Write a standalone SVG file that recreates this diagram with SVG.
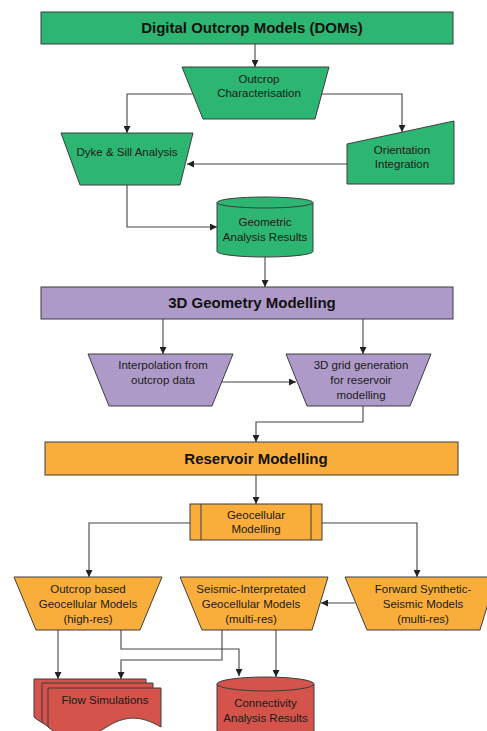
<svg xmlns="http://www.w3.org/2000/svg" width="487" height="731" viewBox="0 0 487 731">
<style>
  .g{fill:#2db671;stroke:#3d3d3d;stroke-width:1}
  .p{fill:#ae9ac8;stroke:#3d3d3d;stroke-width:1}
  .o{fill:#f9ae3c;stroke:#3d3d3d;stroke-width:1}
  .r{fill:#d4534b;stroke:#3d3d3d;stroke-width:1}
  .t{font-family:"Liberation Sans",Arial,sans-serif;font-size:11.5px;fill:#1a1a1a;text-anchor:middle}
  .h{font-family:"Liberation Sans",Arial,sans-serif;font-size:15px;font-weight:bold;fill:#111;text-anchor:middle}
  .c{fill:none;stroke:#444;stroke-width:1.1;marker-end:url(#ah)}
</style>
<defs>
  <marker id="ah" viewBox="0 0 10 10" refX="10" refY="5" markerWidth="7" markerHeight="7" markerUnits="userSpaceOnUse" orient="auto">
    <path d="M0,0 L10,5 L0,10 Z" fill="#222"/>
  </marker>
</defs>
<rect width="487" height="731" fill="#fff"/>

<g id="connectors">
  <path class="c" d="M255,44 V67"/>
  <path class="c" d="M193,94 H127 V133"/>
  <path class="c" d="M322,94 H402 V132"/>
  <path class="c" d="M347,164 H187"/>
  <path class="c" d="M127,185 V227 H217"/>
  <path class="c" d="M265,257 V287"/>
  <path class="c" d="M163,319 V354"/>
  <path class="c" d="M363,319 V354"/>
  <path class="c" d="M222,382 H296"/>
  <path class="c" d="M363,406 V422 H256 V442"/>
  <path class="c" d="M256,475 V504"/>
  <path class="c" d="M190,523 H89 V577"/>
  <path class="c" d="M322,523 H417 V577"/>
  <path class="c" d="M355,603 H321"/>
  <path class="c" d="M58,630 V679"/>
  <path class="c" d="M121,630 V649 H239 V676"/>
  <path class="c" d="M222,630 V660 H121 V679"/>
  <path class="c" d="M276,630 V677"/>
</g>

<g id="doms">
  <rect class="g" x="41" y="12" width="412" height="32"/>
  <text class="h" x="252" y="33">Digital Outcrop Models (DOMs)</text>
</g>

<g id="outcrop-char">
  <polygon class="g" points="182,67 329,67 315,119 203,119"/>
  <text class="t" x="259" y="83">Outcrop</text>
  <text class="t" x="259" y="97">Characterisation</text>
</g>

<g id="dyke-sill">
  <polygon class="g" points="61,133 193,133 180,185 80,185"/>
  <text class="t" x="127" y="156">Dyke &amp; Sill Analysis</text>
</g>

<g id="orientation">
  <polygon class="g" points="347,144 454,121 454,184 347,184"/>
  <text class="t" x="402" y="154">Orientation</text>
  <text class="t" x="402" y="168">Integration</text>
</g>

<g id="geometric-results">
  <path class="g" d="M217,202.5 V251.5 A48,5.5 0 0 0 313,251.5 V202.5"/>
  <ellipse class="g" cx="265" cy="202.5" rx="48" ry="5.5"/>
  <text class="t" x="265" y="226">Geometric</text>
  <text class="t" x="265" y="241">Analysis Results</text>
</g>

<g id="geometry-modelling">
  <rect class="p" x="41" y="287" width="412" height="32"/>
  <text class="h" x="252" y="308">3D Geometry Modelling</text>
</g>

<g id="interpolation">
  <polygon class="p" points="88,354 233,354 212,406 109,406"/>
  <text class="t" x="163" y="369">Interpolation from</text>
  <text class="t" x="163" y="384">outcrop data</text>
</g>

<g id="grid-generation">
  <polygon class="p" points="286,354 431,354 410,406 307,406"/>
  <text class="t" x="361" y="369">3D grid generation</text>
  <text class="t" x="361" y="384">for reservoir</text>
  <text class="t" x="361" y="399">modelling</text>
</g>

<g id="reservoir-modelling">
  <rect class="o" x="45" y="442" width="413" height="33"/>
  <text class="h" x="256" y="464">Reservoir Modelling</text>
</g>

<g id="geocellular">
  <rect class="o" x="190" y="504" width="132" height="36"/>
  <line x1="201" y1="504" x2="201" y2="540" stroke="#3d3d3d" stroke-width="1"/>
  <line x1="311" y1="504" x2="311" y2="540" stroke="#3d3d3d" stroke-width="1"/>
  <text class="t" x="256" y="519">Geocellular</text>
  <text class="t" x="256" y="533">Modelling</text>
</g>

<g id="outcrop-geocellular">
  <polygon class="o" points="14,577 162,577 140,630 36,630"/>
  <text class="t" x="88" y="593">Outcrop based</text>
  <text class="t" x="88" y="608">Geocellular Models</text>
  <text class="t" x="88" y="623">(high-res)</text>
</g>

<g id="seismic-geocellular">
  <polygon class="o" points="180,577 328,577 312,630 202,630"/>
  <text class="t" x="251" y="593">Seismic-Interpretated</text>
  <text class="t" x="251" y="608">Geocellular Models</text>
  <text class="t" x="251" y="623">(multi-res)</text>
</g>

<g id="forward-synthetic">
  <polygon class="o" points="345,577 496,577 480,630 367,630"/>
  <text class="t" x="423" y="593">Forward Synthetic-</text>
  <text class="t" x="423" y="608">Seismic Models</text>
  <text class="t" x="423" y="623">(multi-res)</text>
</g>

<g id="flow-simulations">
  <path class="r" d="M34,679 H146 V717 C125,705 110,705 90,718 C70,731 50,731 34,717 Z"/>
  <path class="r" d="M42,683 H153 V722 C132,710 117,710 97,723 C77,736 58,736 42,722 Z"/>
  <path class="r" d="M48,688 H161 V727 C140,715 125,715 105,728 C85,741 65,741 48,727 Z"/>
  <text class="t" x="105" y="704">Flow Simulations</text>
</g>

<g id="connectivity-results">
  <path class="r" d="M217,684 V745 A48.5,7 0 0 0 314,745 V684"/>
  <ellipse class="r" cx="265.5" cy="684" rx="48.5" ry="7"/>
  <text class="t" x="265.5" y="707">Connectivity</text>
  <text class="t" x="265.5" y="722">Analysis Results</text>
</g>
</svg>
